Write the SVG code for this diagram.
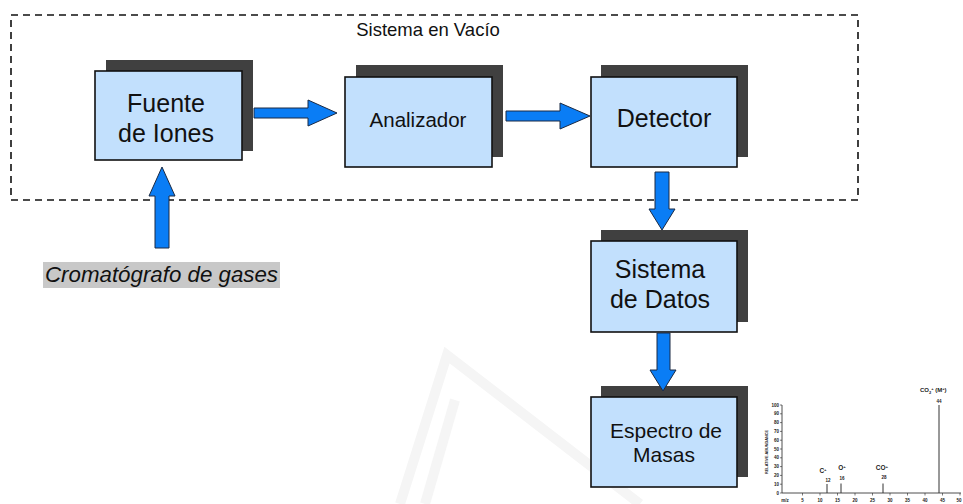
<svg xmlns="http://www.w3.org/2000/svg" width="963" height="504" viewBox="0 0 963 504">
<style>
.sh{fill:#404040}
.bx{fill:#c2e0fd;stroke:#111;stroke-width:1.6}
.t{font-family:"Liberation Sans",Arial,sans-serif;fill:#111;text-anchor:middle}
.ar{fill:#0a7df5;stroke:#1a2a44;stroke-width:1}
.sp{font-family:"Liberation Sans",Arial,sans-serif;font-weight:bold;fill:#222}
</style>
<rect width="963" height="504" fill="#fff"/>
<!-- faint watermark -->
<g fill="none" stroke="#f5f5f5" stroke-width="10">
<polyline points="400,504 447,355 640,504"/>
<polyline points="455,400 425,504"/>
</g>
<rect id="vacuum" x="11" y="15" width="847" height="185" fill="none" stroke="#111" stroke-width="1.6" stroke-dasharray="7,5"/>
<text class="t" x="428" y="36" font-size="18.5">Sistema en Vacío</text>
<g id="fuente">
<rect class="sh" x="106" y="60" width="147" height="91"/>
<rect class="bx" x="95" y="71" width="147" height="89"/>
<text class="t" x="166" y="112" font-size="25">Fuente</text>
<text class="t" x="166" y="142" font-size="25">de Iones</text>
</g>
<g id="analizador">
<rect class="sh" x="356" y="65" width="147" height="92"/>
<rect class="bx" x="345" y="77" width="147" height="90"/>
<text class="t" x="418" y="127" font-size="20.5">Analizador</text>
</g>
<g id="detector">
<rect class="sh" x="601" y="65" width="147" height="92"/>
<rect class="bx" x="591" y="77" width="146" height="90"/>
<text class="t" x="664" y="127" font-size="25">Detector</text>
</g>
<g id="datos">
<rect class="sh" x="601" y="230" width="147" height="92"/>
<rect class="bx" x="591" y="241" width="146" height="91"/>
<text class="t" x="660" y="278" font-size="25">Sistema</text>
<text class="t" x="660" y="308" font-size="25">de Datos</text>
</g>
<g id="espectro">
<rect class="sh" x="601" y="386" width="147" height="91"/>
<rect class="bx" x="591" y="397" width="146" height="90"/>
<text class="t" x="666" y="438" font-size="21">Espectro de</text>
<text class="t" x="664" y="462" font-size="21">Masas</text>
</g>
<g id="cromatografo">
<rect x="43" y="262" width="237" height="26" fill="#c8c8c8"/>
<text x="45" y="282" font-family="'Liberation Sans',Arial,sans-serif" font-style="italic" font-size="22.3" fill="#111">Cromatógrafo de gases</text>
</g>
<g id="connectors">
<polygon class="ar" points="254,108 308,108 308,100 337,113 308,126 308,118 254,118"/>
<polygon class="ar" points="506,111 560,111 560,103 590,116 560,129 560,121 506,121"/>
<polygon class="ar" points="655,172 669,172 669,209 675,209 662,230 649,209 655,209"/>
<polygon class="ar" points="657,333 670,333 670,370 676,370 663,391 650,370 657,370"/>
<polygon class="ar" points="155,248 169,248 169,196 175,196 162,167 149,196 155,196"/>
</g>
<g id="spectrum">
<line x1="782" y1="405" x2="782" y2="493" stroke="#222" stroke-width="0.8"/>
<line x1="782" y1="493" x2="961" y2="493" stroke="#222" stroke-width="0.8"/>
<g stroke="#222" stroke-width="0.6">
<line x1="780" y1="405" x2="782" y2="405"/><line x1="780" y1="413.8" x2="782" y2="413.8"/><line x1="780" y1="422.6" x2="782" y2="422.6"/><line x1="780" y1="431.4" x2="782" y2="431.4"/><line x1="780" y1="440.2" x2="782" y2="440.2"/><line x1="780" y1="449" x2="782" y2="449"/><line x1="780" y1="457.8" x2="782" y2="457.8"/><line x1="780" y1="466.6" x2="782" y2="466.6"/><line x1="780" y1="475.4" x2="782" y2="475.4"/><line x1="780" y1="484.2" x2="782" y2="484.2"/><line x1="780" y1="493" x2="782" y2="493"/>
<line x1="802.5" y1="493" x2="802.5" y2="495.5"/><line x1="820" y1="493" x2="820" y2="495.5"/><line x1="837.5" y1="493" x2="837.5" y2="495.5"/><line x1="855" y1="493" x2="855" y2="495.5"/><line x1="872.5" y1="493" x2="872.5" y2="495.5"/><line x1="890" y1="493" x2="890" y2="495.5"/><line x1="907.5" y1="493" x2="907.5" y2="495.5"/><line x1="925" y1="493" x2="925" y2="495.5"/><line x1="942.5" y1="493" x2="942.5" y2="495.5"/><line x1="960" y1="493" x2="960" y2="495.5"/>
</g>
<g stroke="#333" stroke-width="1">
<line x1="827" y1="493" x2="827" y2="484"/>
<line x1="841" y1="493" x2="841" y2="483.5"/>
<line x1="883" y1="493" x2="883" y2="483.5"/>
<line x1="939" y1="493" x2="939" y2="405"/>
</g>
<g class="sp" font-size="4.5" text-anchor="end">
<text x="779" y="406.5">100</text><text x="779" y="415.3">90</text><text x="779" y="424.1">80</text><text x="779" y="432.9">70</text><text x="779" y="441.7">60</text><text x="779" y="450.5">50</text><text x="779" y="459.3">40</text><text x="779" y="468.1">30</text><text x="779" y="476.9">20</text><text x="779" y="485.7">10</text><text x="779" y="494.5">0</text>
</g>
<g class="sp" font-size="4.5" text-anchor="middle">
<text x="785" y="502">m/z</text><text x="802.5" y="502">5</text><text x="820" y="502">10</text><text x="837.5" y="502">15</text><text x="855" y="502">20</text><text x="872.5" y="502">25</text><text x="890" y="502">30</text><text x="907.5" y="502">35</text><text x="925" y="502">40</text><text x="942.5" y="502">45</text><text x="959" y="502">50</text>
<text x="828" y="482">12</text><text x="842" y="480">16</text><text x="884" y="479">28</text><text x="939" y="403">44</text>
</g>
<g class="sp" font-size="6.5" text-anchor="middle">
<text x="823" y="473">C<tspan font-size="4.3" dy="-2">+</tspan></text>
<text x="842" y="470">O<tspan font-size="4.3" dy="-2">+</tspan></text>
<text x="882" y="470">CO<tspan font-size="4.3" dy="-2">+</tspan></text>
</g>
<text class="sp" font-size="6" x="920" y="392">CO<tspan font-size="4" dy="1.5">2</tspan><tspan font-size="4" dy="-3.5">+</tspan><tspan dy="2"> (M</tspan><tspan font-size="4" dy="-2">+</tspan><tspan dy="2">)</tspan></text>
<text class="sp" font-size="3.8" text-anchor="middle" transform="translate(768,452) rotate(-90)">RELATIVE ABUNDANCE</text>
</g>
</svg>
